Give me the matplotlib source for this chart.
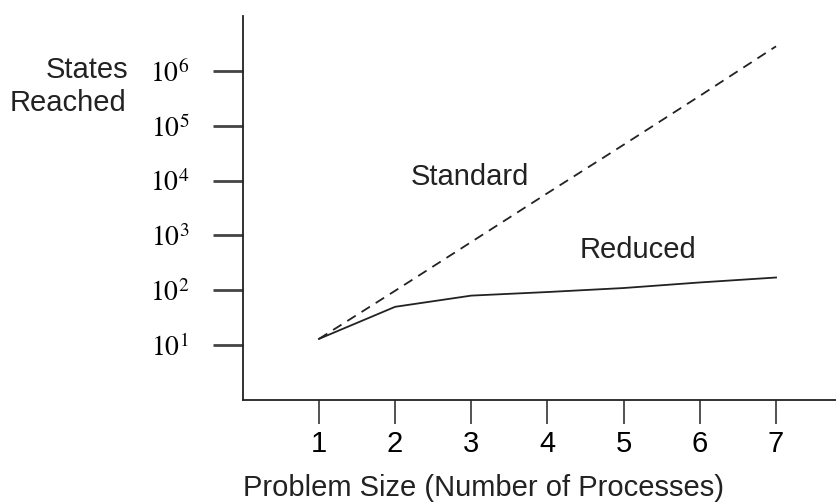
import matplotlib
matplotlib.use("Agg")
import matplotlib.pyplot as plt

plt.rcParams.update({
    "font.family": ["Liberation Sans", "DejaVu Sans"],
    "mathtext.fontset": "stix",
    "axes.edgecolor": "#222222",
    "text.color": "#222222",
})

# data
sizes = [1, 2, 3, 4, 5, 6, 7]
standard = [13, 98, 760, 5900, 45000, 350000, 2800000]
reduced = [13, 50, 80, 93, 110, 139, 171]
y_ticks = [1e1, 1e2, 1e3, 1e4, 1e5, 1e6]
y_labels = ["$10^{1}$", "$10^{2}$", "$10^{3}$", "$10^{4}$", "$10^{5}$", "$10^{6}$"]

fig = plt.figure(figsize=(8.37, 5.04), dpi=100)
ax = fig.add_axes([0.29, 0.2063, 0.72, 0.762])

ax.plot(sizes, standard, color="#222222", lw=1.3, linestyle=(0, (5.5, 3.8)))
ax.plot(sizes, reduced, color="#222222", lw=1.3)

ax.set_yscale("log")
ax.set_xlim(0, 7.91)
ax.set_ylim(1, 1e7)

ax.spines["top"].set_visible(False)
ax.spines["right"].set_visible(False)
ax.spines["left"].set_linewidth(1.3)
ax.spines["bottom"].set_linewidth(1.3)

ax.set_xticks(sizes)
ax.set_xticklabels([str(s) for s in sizes], fontsize=21)
ax.tick_params(axis="x", direction="out", length=17.5, width=1.3, pad=4,
               color="#444444")

ax.set_yticks(y_ticks)
ax.set_yticklabels(y_labels, fontsize=20)
ax.yaxis.set_minor_locator(matplotlib.ticker.NullLocator())
ax.tick_params(axis="y", direction="out", length=21.5, width=2, pad=17,
               color="#444444")

ax.text(2.2, 8400, "Standard", fontsize=21, va="baseline")
ax.text(4.42, 392, "Reduced", fontsize=21, va="baseline")

fig.text(0.153, 0.845, "States", fontsize=21, ha="right", va="baseline")
fig.text(0.151, 0.780, "Reached", fontsize=21, ha="right", va="baseline")
fig.text(0.578, 0.016, "Problem Size (Number of Processes)", fontsize=21,
         ha="center", va="baseline")

fig.savefig("out.png", dpi=100)
